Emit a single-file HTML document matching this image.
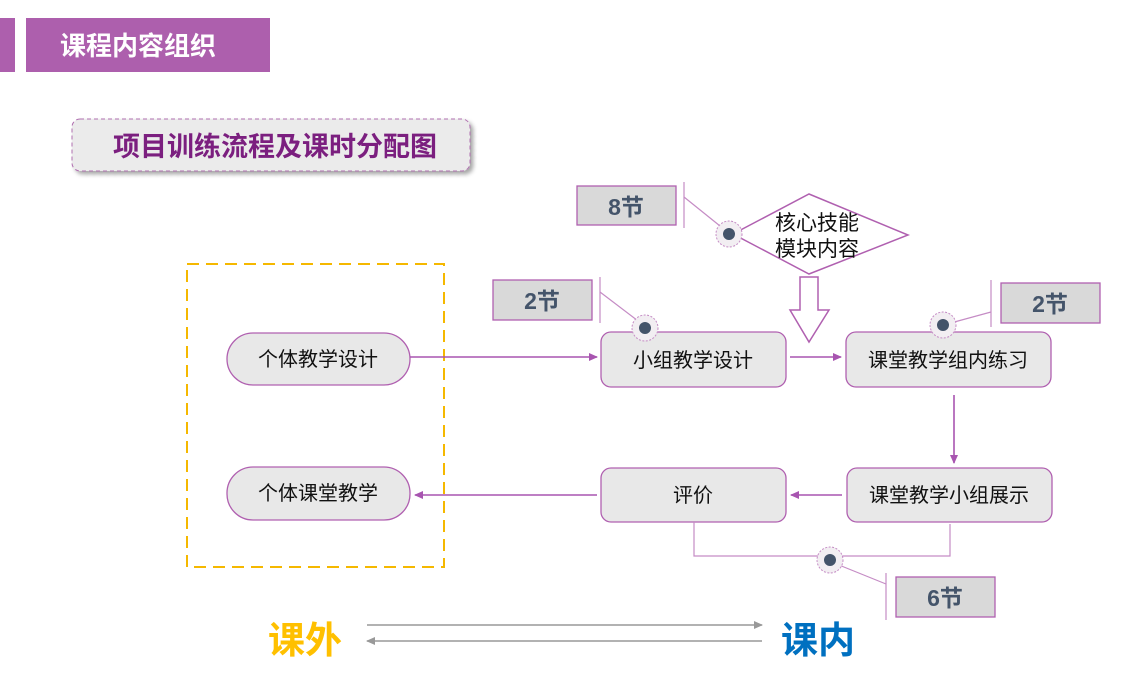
<!DOCTYPE html>
<html><head><meta charset="utf-8"><style>
html,body{margin:0;padding:0;background:#fff;width:1146px;height:689px;overflow:hidden}
text{font-family:"Liberation Sans","Noto Sans CJK SC",sans-serif}
</style></head><body>
<svg width="1146" height="689" viewBox="0 0 1146 689" xmlns="http://www.w3.org/2000/svg">
<defs>
<marker id="pa" markerWidth="10" markerHeight="10" refX="8" refY="5" orient="auto" markerUnits="userSpaceOnUse"><path d="M0,1 L9,5 L0,9 Z" fill="#a855b0"/></marker>
<marker id="ga" markerWidth="10" markerHeight="10" refX="8" refY="5" orient="auto" markerUnits="userSpaceOnUse"><path d="M0,1 L9,5 L0,9 Z" fill="#999"/></marker>
<filter id="sh" x="-5%" y="-10%" width="115%" height="130%"><feDropShadow dx="3" dy="3" stdDeviation="2" flood-color="#000" flood-opacity="0.35"/></filter>
</defs>
<rect x="0" y="18" width="15" height="54" fill="#ad5fad"/>
<rect x="26" y="18" width="244" height="54" fill="#ad5fad"/>
<text x="138" y="55" font-size="26" font-weight="bold" fill="#fff" text-anchor="middle">课程内容组织</text>
<rect x="72" y="119" width="398" height="52" rx="8" fill="#ebebeb" stroke="#b070b0" stroke-dasharray="4,3" filter="url(#sh)"/>
<text x="275" y="156" font-size="27" font-weight="bold" fill="#7b1f7f" text-anchor="middle">项目训练流程及课时分配图</text>
<rect x="187" y="264" width="257" height="303" fill="none" stroke="#f5b800" stroke-width="2" stroke-dasharray="12,7"/>
<g fill="#e8e8e8" stroke="#b060b0" stroke-width="1.3">
<rect x="227" y="333" width="183" height="52" rx="26"/>
<rect x="227" y="467" width="183" height="53" rx="26"/>
<rect x="601" y="332" width="185" height="55" rx="10"/>
<rect x="846" y="332" width="205" height="55" rx="10"/>
<rect x="601" y="468" width="185" height="54" rx="10"/>
<rect x="847" y="468" width="205" height="54" rx="10"/>
</g>
<g font-size="20" fill="#111" text-anchor="middle">
<text x="318" y="366">个体教学设计</text>
<text x="318" y="500">个体课堂教学</text>
<text x="693" y="367">小组教学设计</text>
<text x="948" y="367">课堂教学组内练习</text>
<text x="693" y="502">评价</text>
<text x="949" y="502">课堂教学小组展示</text>
</g>
<g stroke="#a855b0" stroke-width="1.6" fill="none">
<line x1="410" y1="357" x2="597" y2="357" marker-end="url(#pa)"/>
<line x1="790" y1="357" x2="841" y2="357" marker-end="url(#pa)"/>
<line x1="954" y1="395" x2="954" y2="463" marker-end="url(#pa)"/>
<line x1="842" y1="495" x2="791" y2="495" marker-end="url(#pa)"/>
<line x1="597" y1="495" x2="415" y2="495" marker-end="url(#pa)"/>
</g>
<polygon points="809,194 908,235 809,274 733,234" fill="#fff" stroke="#b060b0" stroke-width="1.5"/>
<text x="817" y="230" font-size="21" fill="#111" text-anchor="middle">核心技能</text>
<text x="817" y="256" font-size="21" fill="#111" text-anchor="middle">模块内容</text>
<polygon points="800,277 818,277 818,310 829,310 809,342 790,310 800,310" fill="#fff" stroke="#b060b0" stroke-width="1.5"/>
<g stroke="#c58cc5" stroke-width="1.2" fill="none">
<polyline points="694,522 694,556 950,556 950,524"/>
<line x1="684" y1="182" x2="684" y2="228"/><line x1="684" y1="197" x2="725" y2="230"/>
<line x1="600" y1="277" x2="600" y2="323"/><line x1="600" y1="292" x2="642" y2="324"/>
<line x1="991" y1="280" x2="991" y2="327"/><line x1="991" y1="312" x2="947" y2="324"/>
<line x1="886" y1="573" x2="886" y2="620"/><line x1="886" y1="584" x2="834" y2="563"/>
</g>
<g>
<circle cx="729" cy="234" r="13" fill="#f2eef2" stroke="#c58cc5" stroke-dasharray="2,1.5"/><circle cx="729" cy="234" r="6" fill="#44546a"/>
<circle cx="645" cy="328" r="13" fill="#f2eef2" stroke="#c58cc5" stroke-dasharray="2,1.5"/><circle cx="645" cy="328" r="6" fill="#44546a"/>
<circle cx="943" cy="325" r="13" fill="#f2eef2" stroke="#c58cc5" stroke-dasharray="2,1.5"/><circle cx="943" cy="325" r="6" fill="#44546a"/>
<circle cx="830" cy="560" r="13" fill="#f2eef2" stroke="#c58cc5" stroke-dasharray="2,1.5"/><circle cx="830" cy="560" r="6" fill="#44546a"/>
</g>
<g fill="#d9d9d9" stroke="#b060b0" stroke-width="1.3">
<rect x="577" y="186" width="99" height="39"/>
<rect x="493" y="280" width="99" height="40"/>
<rect x="1001" y="283" width="99" height="40"/>
<rect x="896" y="577" width="99" height="40"/>
</g>
<g font-size="23" font-weight="bold" fill="#44546a" text-anchor="middle">
<text x="626" y="215">8节</text>
<text x="542" y="309">2节</text>
<text x="1050" y="312">2节</text>
<text x="945" y="606">6节</text>
</g>
<line x1="367" y1="625" x2="762" y2="625" stroke="#999" stroke-width="1.5" marker-end="url(#ga)"/>
<line x1="762" y1="641" x2="367" y2="641" stroke="#999" stroke-width="1.5" marker-end="url(#ga)"/>
<text x="305" y="653" font-size="37" font-weight="bold" fill="#ffc000" text-anchor="middle">课外</text>
<text x="818" y="653" font-size="37" font-weight="bold" fill="#0070c0" text-anchor="middle">课内</text>
</svg>
</body></html>
